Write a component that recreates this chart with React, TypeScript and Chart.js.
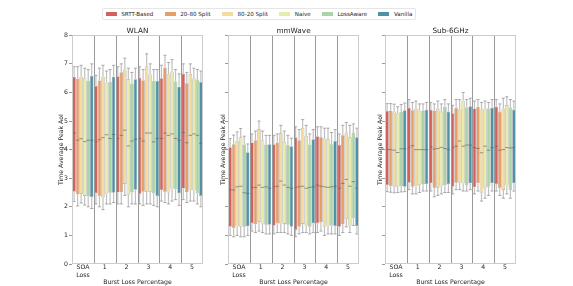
import React, { useEffect, useRef } from 'react';
import { Chart, registerables } from 'chart.js';
Chart.register(...registerables);

// ---------- data ----------
const groups: (string | string[])[] = [['SOA', 'Loss'], '1', '2', '3', '4', '5'];
const seriesNames = ['SRTT-Based', '20-80 Split', '80-20 Split', 'Naive', 'LossAware', 'Vanilla'];
const seriesColors = ['#d3605a', '#e89e68', '#f3dc9e', '#e8ecab', '#aad4a5', '#4f92a8'];
const yMin = 0;
const yMax = 8;
const yStep = 1;

// rows = series, cols = groups
const wlanHigh = [
  [6.55, 6.23, 6.57, 6.52, 6.5, 6.66],
  [6.47, 6.42, 6.71, 6.43, 6.87, 6.32],
  [6.55, 6.55, 6.8, 6.92, 6.64, 6.65],
  [6.5, 6.34, 6.46, 6.63, 6.73, 6.5],
  [6.4, 6.37, 6.31, 6.39, 6.38, 6.45],
  [6.58, 6.55, 6.46, 6.4, 6.2, 6.37],
];
const wlanLow = [
  [2.53, 2.47, 2.5, 2.45, 2.59, 2.64],
  [2.43, 2.37, 2.52, 2.53, 2.53, 2.52],
  [2.45, 2.33, 2.8, 2.53, 2.5, 2.58],
  [2.38, 2.47, 2.42, 2.53, 2.64, 2.58],
  [2.36, 2.49, 2.5, 2.47, 2.61, 2.47],
  [2.34, 2.49, 2.6, 2.38, 2.47, 2.38],
];
const wlanMedian = [
  [4.58, 4.28, 4.39, 4.39, 4.39, 4.6],
  [4.33, 4.35, 4.5, 4.3, 4.58, 4.24],
  [4.38, 4.42, 4.68, 4.58, 4.5, 4.5],
  [4.28, 4.52, 4.13, 4.58, 4.55, 4.55],
  [4.33, 4.39, 4.3, 4.27, 4.39, 4.5],
  [4.33, 4.53, 4.36, 4.39, 4.33, 4.22],
];
const wlanWhiskHigh = [
  [6.9, 6.6, 6.9, 6.9, 6.95, 7.0],
  [6.9, 6.85, 7.0, 6.8, 7.3, 6.7],
  [6.95, 6.95, 7.2, 7.35, 7.05, 7.0],
  [6.85, 6.75, 6.85, 7.0, 7.15, 6.85],
  [6.8, 6.8, 6.7, 6.8, 6.8, 6.8],
  [7.0, 6.95, 6.85, 6.8, 6.65, 6.75],
];
const wlanWhiskLow = [
  [2.18, 2.1, 2.1, 2.1, 2.2, 2.25],
  [2.03, 2.0, 2.1, 2.05, 2.15, 2.15],
  [2.13, 1.9, 2.4, 2.1, 2.1, 2.2],
  [2.06, 2.1, 2.0, 2.1, 2.2, 2.2],
  [2.0, 2.1, 2.1, 2.05, 2.25, 2.1],
  [1.94, 2.15, 2.1, 2.0, 2.05, 2.0],
];

const mmHigh = [
  [4.08, 4.25, 4.19, 4.43, 4.47, 4.16],
  [4.19, 4.33, 4.25, 4.33, 4.43, 4.5],
  [4.31, 4.72, 4.57, 4.76, 4.39, 4.6],
  [4.43, 4.33, 4.27, 4.48, 4.36, 4.43],
  [4.18, 4.18, 4.15, 4.18, 4.19, 4.6],
  [3.91, 4.19, 4.12, 4.36, 4.3, 4.43],
];
const mmLow = [
  [1.3, 1.42, 1.34, 1.19, 1.42, 1.3],
  [1.25, 1.4, 1.42, 1.3, 1.47, 1.4],
  [1.32, 1.47, 1.42, 1.4, 1.3, 1.57],
  [1.3, 1.42, 1.4, 1.35, 1.35, 1.35],
  [1.3, 1.37, 1.37, 1.3, 1.35, 1.62],
  [1.32, 1.37, 1.3, 1.42, 1.33, 1.33],
];
const mmMedian = [
  [2.59, 2.68, 2.7, 2.68, 2.76, 2.65],
  [2.59, 2.68, 2.72, 2.7, 2.72, 2.82],
  [2.7, 2.76, 2.9, 2.72, 2.7, 2.96],
  [2.72, 2.68, 2.76, 2.65, 2.68, 2.72],
  [2.49, 2.7, 2.68, 2.68, 2.7, 2.88],
  [2.47, 2.65, 2.65, 2.7, 2.72, 2.65],
];
const mmWhiskHigh = [
  [4.39, 4.55, 4.5, 4.8, 4.8, 4.55],
  [4.51, 4.65, 4.55, 4.7, 4.8, 4.85],
  [4.62, 5.0, 4.85, 5.05, 4.75, 4.95],
  [4.74, 4.65, 4.65, 4.85, 4.75, 4.85],
  [4.47, 4.5, 4.5, 4.55, 4.6, 4.9],
  [4.2, 4.5, 4.4, 4.7, 4.7, 4.75],
];
const mmWhiskLow = [
  [1.0, 1.15, 1.05, 0.95, 1.1, 1.0],
  [0.95, 1.1, 1.1, 1.05, 1.15, 1.1],
  [1.0, 1.15, 1.1, 1.1, 1.0, 1.3],
  [0.95, 1.1, 1.1, 1.1, 1.05, 1.1],
  [0.95, 1.05, 1.05, 1.05, 1.05, 1.35],
  [1.0, 1.05, 1.0, 1.1, 1.05, 1.05],
];

const subHigh = [
  [5.35, 5.47, 5.4, 5.27, 5.44, 5.5],
  [5.35, 5.38, 5.35, 5.46, 5.5, 5.33],
  [5.33, 5.44, 5.44, 5.4, 5.4, 5.44],
  [5.26, 5.36, 5.33, 5.71, 5.44, 5.56],
  [5.32, 5.35, 5.5, 5.47, 5.44, 5.47],
  [5.38, 5.4, 5.33, 5.52, 5.47, 5.4],
];
const subLow = [
  [2.76, 2.84, 2.82, 2.7, 2.68, 2.8],
  [2.72, 2.7, 2.67, 2.84, 2.82, 2.65],
  [2.7, 2.72, 2.67, 2.84, 2.49, 2.59],
  [2.7, 2.76, 2.72, 2.82, 2.64, 2.75],
  [2.72, 2.8, 2.76, 2.76, 2.7, 2.6],
  [2.7, 2.8, 2.8, 2.82, 2.82, 2.82],
];
const subMedian = [
  [4.0, 4.08, 4.1, 4.07, 4.07, 4.12],
  [4.0, 4.14, 4.02, 4.12, 4.04, 3.98],
  [3.98, 4.0, 4.04, 4.3, 3.89, 4.0],
  [3.9, 4.0, 4.08, 4.12, 4.12, 4.07],
  [4.03, 4.0, 4.04, 4.16, 3.98, 4.06],
  [4.03, 4.0, 4.0, 4.16, 4.07, 4.07],
];
const subWhiskHigh = [
  [5.61, 5.75, 5.65, 5.55, 5.7, 5.75],
  [5.61, 5.65, 5.6, 5.75, 5.75, 5.6],
  [5.59, 5.7, 5.7, 5.75, 5.65, 5.8],
  [5.5, 5.6, 5.6, 6.0, 5.7, 5.85],
  [5.58, 5.6, 5.75, 5.75, 5.65, 5.75],
  [5.63, 5.65, 5.6, 5.8, 5.75, 5.7],
];
const subWhiskLow = [
  [2.53, 2.6, 2.55, 2.45, 2.45, 2.55],
  [2.51, 2.45, 2.35, 2.6, 2.55, 2.4],
  [2.49, 2.45, 2.4, 2.6, 2.2, 2.3],
  [2.5, 2.5, 2.45, 2.55, 2.3, 2.45],
  [2.52, 2.55, 2.5, 2.55, 2.4, 2.3],
  [2.53, 2.55, 2.5, 2.6, 2.55, 2.55],
];

// ---------- styling ----------
const FONT = '"DejaVu Sans", sans-serif';
const TEXT = '#262626';

const boxExtras = {
  id: 'boxExtras',
  afterDatasetsDraw(chart: any) {
    const { ctx, chartArea, scales } = chart;
    const y = scales.y;
    const x = scales.x;
    ctx.save();
    chart.data.datasets.forEach((ds: any, di: number) => {
      const meta = chart.getDatasetMeta(di);
      meta.data.forEach((el: any, i: number) => {
        const { x: cx, width } = el.getProps(['x', 'width'], true);
        const top = y.getPixelForValue(ds.data[i][1]);
        const bot = y.getPixelForValue(ds.data[i][0]);
        const wh = y.getPixelForValue(ds.whiskHigh[i]);
        const wl = y.getPixelForValue(ds.whiskLow[i]);
        const cap = width * 0.45;
        ctx.strokeStyle = 'rgba(165,165,165,0.7)';
        ctx.lineWidth = 1.2;
        ctx.beginPath();
        ctx.moveTo(cx, top);
        ctx.lineTo(cx, wh);
        ctx.moveTo(cx, bot);
        ctx.lineTo(cx, wl);
        ctx.stroke();
        ctx.strokeStyle = 'rgba(130,130,130,0.8)';
        ctx.lineWidth = 0.8;
        ctx.beginPath();
        ctx.moveTo(cx - cap, wh);
        ctx.lineTo(cx + cap, wh);
        ctx.moveTo(cx - cap, wl);
        ctx.lineTo(cx + cap, wl);
        ctx.stroke();
        const my = y.getPixelForValue(ds.median[i]);
        ctx.strokeStyle = 'rgba(95,95,95,0.7)';
        ctx.lineWidth = 0.9;
        ctx.beginPath();
        ctx.moveTo(cx - width / 2, my);
        ctx.lineTo(cx + width / 2, my);
        ctx.stroke();
      });
    });
    ctx.strokeStyle = '#9a9a9a';
    ctx.lineWidth = 1;
    const n = chart.data.labels.length;
    for (let i = 1; i < n; i++) {
      const px = Math.round((x.getPixelForValue(i - 1) + x.getPixelForValue(i)) / 2) + 0.5;
      ctx.beginPath();
      ctx.moveTo(px, chartArea.top);
      ctx.lineTo(px, chartArea.bottom);
      ctx.stroke();
    }
    ctx.strokeStyle = '#cccccc';
    ctx.lineWidth = 1;
    ctx.strokeRect(
      Math.round(chartArea.left) + 0.5,
      Math.round(chartArea.top) + 0.5,
      Math.round(chartArea.right) - Math.round(chartArea.left) - 1,
      Math.round(chartArea.bottom) - Math.round(chartArea.top) - 1
    );
    ctx.restore();
  },
};

type PanelProps = {
  title: string;
  low: number[][];
  high: number[][];
  median: number[][];
  whiskLow: number[][];
  whiskHigh: number[][];
  showYLabels: boolean;
  left: number;
  width: number;
  yAxisWidth: number;
};

const TOP = 26;
const HEIGHT = 260;

function Panel(p: PanelProps) {
  const ref = useRef<HTMLCanvasElement>(null);
  useEffect(() => {
    if (!ref.current) return;
    const datasets = seriesNames.map((name, s) => ({
      label: name,
      data: groups.map((_, g) => [p.low[s][g], p.high[s][g]]),
      median: p.median[s],
      whiskLow: p.whiskLow[s],
      whiskHigh: p.whiskHigh[s],
      backgroundColor: seriesColors[s],
      borderColor: 'rgba(90,90,90,0.55)',
      borderWidth: 0.6,
      borderSkipped: false,
      categoryPercentage: 0.97,
      barPercentage: 1.0,
    }));
    const chart = new Chart(ref.current, {
      type: 'bar',
      data: { labels: groups as any, datasets: datasets as any },
      options: {
        animation: false,
        responsive: false,
        devicePixelRatio: 1,
        layout: { padding: 0 },
        plugins: {
          legend: { display: false },
          tooltip: { enabled: false },
          title: {
            display: true,
            text: p.title,
            fullSize: false,
            color: TEXT,
            font: { family: FONT, size: 7.3, weight: 'normal' as any },
            padding: { top: 0.5, bottom: 0 },
          },
        },
        scales: {
          x: {
            type: 'category',
            offset: true,
            grid: { display: false, drawTicks: false },
            border: { display: false },
            ticks: {
              color: TEXT,
              font: { family: FONT, size: 6.2 },
              padding: 0,
              autoSkip: false,
              maxRotation: 0,
            },
            title: {
              display: true,
              text: 'Burst Loss Percentage',
              color: TEXT,
              font: { family: FONT, size: 6.2 },
              padding: 0,
            },
            afterFit: (s: any) => {
              s.height = 22;
            },
          },
          y: {
            min: yMin,
            max: yMax,
            ticks: {
              stepSize: yStep,
              color: TEXT,
              font: { family: FONT, size: 6.2 },
              padding: 1,
              callback: (v: any) => (p.showYLabels ? String(v) : ''),
            },
            grid: {
              display: true,
              drawOnChartArea: false,
              drawTicks: true,
              tickLength: 3,
              color: '#9a9a9a',
            },
            border: { display: false },
            title: {
              display: true,
              text: 'Time Average Peak AoI',
              color: TEXT,
              font: { family: FONT, size: 6.2 },
              padding: { top: 1.5, bottom: 0 },
            },
            afterFit: (s: any) => {
              s.width = p.yAxisWidth;
            },
          },
        },
      },
      plugins: [boxExtras],
    });
    return () => chart.destroy();
  }, []);
  return (
    <div style={{ position: 'absolute', left: p.left, top: TOP, width: p.width, height: HEIGHT }}>
      <canvas ref={ref} width={p.width} height={HEIGHT} style={{ width: p.width, height: HEIGHT, display: 'block' }} />
    </div>
  );
}

const LEGEND_FONT = 5.6;

function Legend() {
  return (
    <div
      style={{
        position: 'absolute',
        left: 102,
        top: 8,
        height: 12,
        border: '1px solid #e6e6e6',
        borderRadius: 2,
        boxSizing: 'border-box',
        display: 'flex',
        alignItems: 'center',
        paddingLeft: 2.5,
        paddingRight: 2.5,
        whiteSpace: 'nowrap',
      }}
    >
      {seriesNames.map((name, i) => (
        <div key={name} style={{ display: 'flex', alignItems: 'center', marginRight: i < seriesNames.length - 1 ? LEGEND_FONT * 2 : 0 }}>
          <div style={{ width: LEGEND_FONT * 2, height: 4.5, background: seriesColors[i], marginRight: LEGEND_FONT * 0.8 }} />
          <div style={{ fontSize: LEGEND_FONT, lineHeight: '8px', fontFamily: FONT, color: TEXT }}>{name}</div>
        </div>
      ))}
    </div>
  );
}

export default function App() {
  useEffect(() => {
    document.body.style.margin = '0';
  }, []);
  return (
    <div
      style={{
        position: 'fixed',
        left: 0,
        top: 0,
        width: 573,
        height: 286,
        background: '#ffffff',
        overflow: 'hidden',
        fontFamily: FONT,
      }}
    >
      <Legend />
      <Panel title="WLAN" low={wlanLow} high={wlanHigh} median={wlanMedian} whiskLow={wlanWhiskLow} whiskHigh={wlanWhiskHigh} showYLabels={true} left={56} width={147} yAxisWidth={16} />
      <Panel title="mmWave" low={mmLow} high={mmHigh} median={mmMedian} whiskLow={mmWhiskLow} whiskHigh={mmWhiskHigh} showYLabels={false} left={218} width={141} yAxisWidth={10} />
      <Panel title="Sub-6GHz" low={subLow} high={subHigh} median={subMedian} whiskLow={subWhiskLow} whiskHigh={subWhiskHigh} showYLabels={false} left={375} width={141} yAxisWidth={10} />
    </div>
  );
}
